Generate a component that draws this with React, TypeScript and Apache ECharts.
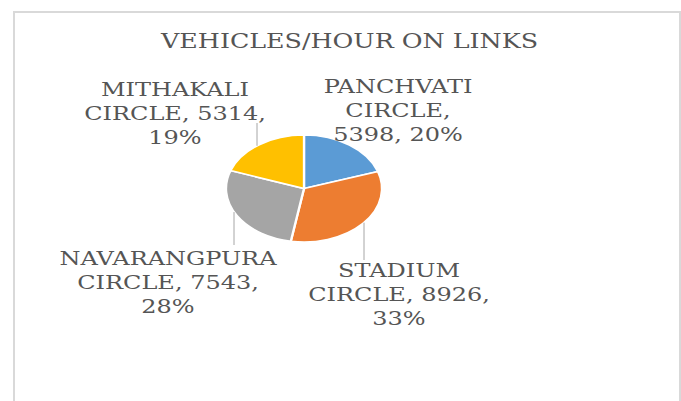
import React, { useEffect, useRef } from "react";
import * as echarts from "echarts";

const TITLE = "VEHICLES/HOUR ON LINKS";
const CATEGORIES = ["PANCHVATI CIRCLE", "STADIUM CIRCLE", "NAVARANGPURA CIRCLE", "MITHAKALI CIRCLE"];
const VALUES = [5398, 8926, 7543, 5314];
const PERCENT_LABELS = ["20%", "33%", "28%", "19%"];
const COLORS = ["#5B9BD5", "#ED7D31", "#A5A5A5", "#FFC000"];

// layout (positions in page pixels)
const PIE = { cx: 304, cy: 188.5, rx: 78, ry: 53.5 };
const LABEL_LAYOUT = [
  { x: 398, y: 110, breaks: [1, 2], leaderX: null as number | null, leaderY: 0 },
  { x: 399, y: 294, breaks: [1, 3], leaderX: 364, leaderY: 260 },
  { x: 168, y: 282.5, breaks: [1, 3], leaderX: 234, leaderY: 245 },
  { x: 175, y: 113, breaks: [1, 3], leaderX: 257, leaderY: 123 },
];
const FONT = '"DejaVu Serif", serif';
const TITLE_SIZE = 20.6;
const LABEL_SIZE = 18.8;
const TEXT_COLOR = "#555555";

function measure(text: string, size: number) {
  const c = document.createElement("canvas").getContext("2d");
  if (!c) return text.length * size * 0.6;
  c.font = `${size}px "DejaVu Serif"`;
  return c.measureText(text).width;
}

export default function App() {
  const ref = useRef<HTMLDivElement>(null);
  useEffect(() => {
    if (!ref.current) return;
    const chart = echarts.init(ref.current, null, { renderer: "svg" });
    const textScale = 377 / measure(TITLE, TITLE_SIZE);
    const labelScale = 217 / measure("NAVARANGPURA", LABEL_SIZE);
    const total = VALUES.reduce((a, b) => a + b, 0);

    const buildLabel = (i: number, value: number) => {
      const tokens = `${CATEGORIES[i]}, ${value}, ${PERCENT_LABELS[i]}`.split(" ");
      const br = LABEL_LAYOUT[i].breaks;
      const lines: string[] = [];
      let start = 0;
      for (const b of br) {
        lines.push(tokens.slice(start, b).join(" "));
        start = b;
      }
      lines.push(tokens.slice(start).join(" "));
      return lines.join("\n");
    };

    const option: any = {
      animation: false,
      backgroundColor: "#ffffff",
      graphic: [
        {
          type: "rect",
          shape: { x: 14, y: 12, width: 666, height: 430 },
          style: { fill: "none", stroke: "#d9d9d9", lineWidth: 2 },
          silent: true,
        },
        {
          type: "text",
          x: 349.5,
          y: 41,
          scaleX: textScale,
          style: {
            text: TITLE,
            fill: TEXT_COLOR,
            fontFamily: FONT,
            fontSize: TITLE_SIZE,
            align: "center",
            verticalAlign: "middle",
          },
        },
      ],
      series: [
        {
          type: "custom",
          coordinateSystem: "none",
          silent: true,
          data: VALUES.map((v, i) => ({ name: CATEGORIES[i], value: v })),
          renderItem: (params: any, api: any) => {
            const i = params.dataIndex;
            const v = api.value(0);
            let cum = 0;
            for (let j = 0; j < i; j++) cum += VALUES[j];
            const startAngle = -Math.PI / 2 + (cum / total) * Math.PI * 2;
            const endAngle = startAngle + (v / total) * Math.PI * 2;
            const L = LABEL_LAYOUT[i];
            const children: any[] = [
              {
                type: "sector",
                x: PIE.cx,
                y: PIE.cy,
                scaleX: PIE.rx / PIE.ry,
                shape: { cx: 0, cy: 0, r0: 0, r: PIE.ry, startAngle, endAngle, clockwise: true },
                style: { fill: COLORS[i], stroke: "#ffffff", lineWidth: 1.6 },
              },
            ];
            if (L.leaderX !== null) {
              const dx = (L.leaderX - PIE.cx) / PIE.rx;
              const h = PIE.ry * Math.sqrt(Math.max(0, 1 - dx * dx));
              const edgeY = L.leaderY < PIE.cy ? PIE.cy - h : PIE.cy + h;
              children.push({
                type: "line",
                shape: { x1: L.leaderX, y1: L.leaderY, x2: L.leaderX, y2: edgeY },
                style: { stroke: "#a6a6a6", lineWidth: 1 },
              });
            }
            children.push({
              type: "text",
              x: L.x,
              y: L.y,
              scaleX: labelScale,
              style: {
                text: buildLabel(i, v),
                fill: TEXT_COLOR,
                fontFamily: FONT,
                fontSize: LABEL_SIZE,
                lineHeight: 24,
                align: "center",
                verticalAlign: "middle",
              },
            });
            return { type: "group", children };
          },
        },
      ],
    };
    chart.setOption(option);
    return () => chart.dispose();
  }, []);
  return (
    <div
      ref={ref}
      style={{ position: "absolute", left: 0, top: 0, width: 681, height: 401, background: "#fff" }}
    />
  );
}
